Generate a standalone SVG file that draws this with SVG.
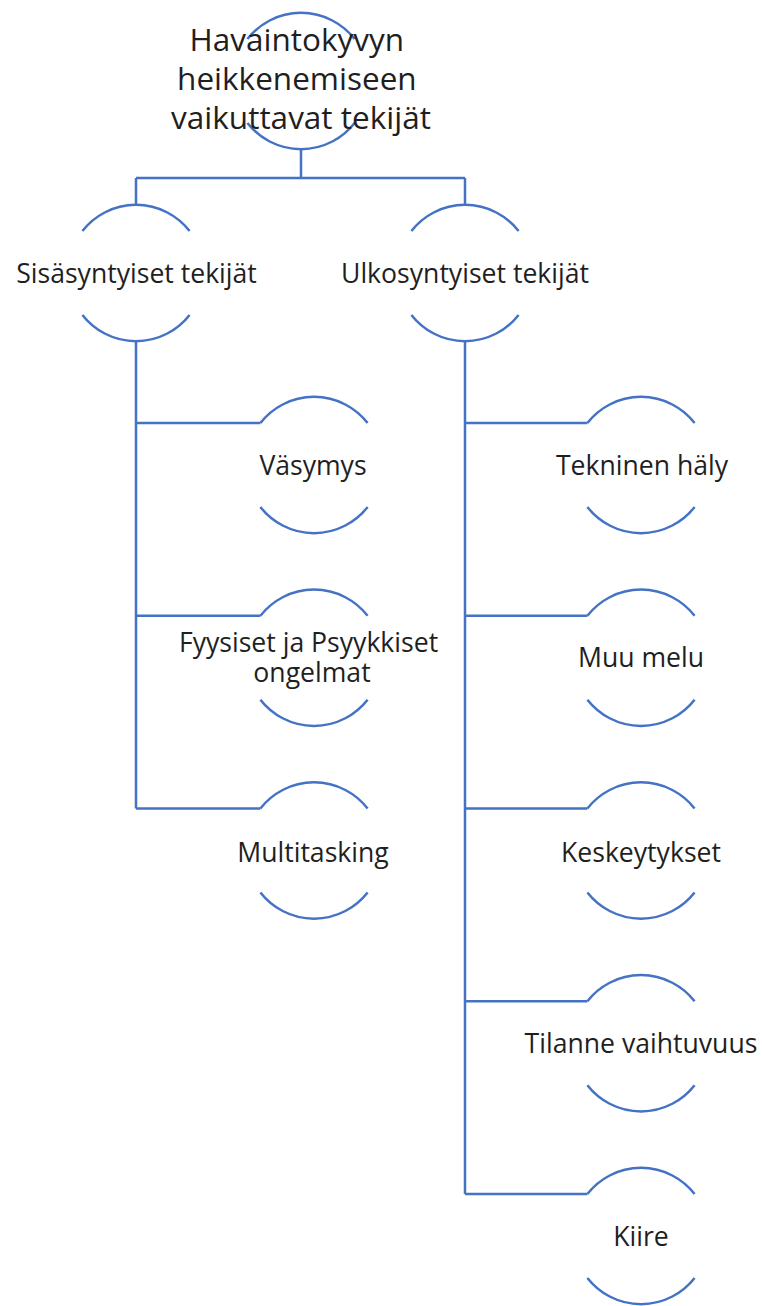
<svg xmlns="http://www.w3.org/2000/svg" width="762" height="1306" viewBox="0 0 762 1306">
  <style>
    .ring { fill: none; stroke: #4472C4; stroke-width: 2.5; }
    .link { fill: none; stroke: #4472C4; stroke-width: 2.5; }
    text { font-family: "Open Sans", "Liberation Sans", sans-serif; fill: #1f1f1f; text-anchor: middle; }
    .lbl { font-size: 26.6px; }
    .head { font-size: 31.5px; }
  </style>
  <defs>
    <!-- open circle: top and bottom arcs of r=68, gaps left and right -->
    <g id="ring">
      <path class="ring" d="M -53.6 -42 A 68 68 0 0 1 53.6 -42"/>
      <path class="ring" d="M -53.6 42 A 68 68 0 0 0 53.6 42"/>
    </g>
  </defs>
  <rect width="762" height="1306" fill="#ffffff"/>

  <g id="connectors">
    <path class="link" d="M 301 149 V 178 M 136 178 H 465 M 136 178 V 205 M 465 178 V 205"/>
    <path class="link" d="M 136 341 V 808.5"/>
    <path class="link" d="M 136 423 H 260.4 M 136 615.75 H 260.4 M 136 808.5 H 260.4"/>
    <path class="link" d="M 465 341 V 1194"/>
    <path class="link" d="M 465 423 H 587.4 M 465 615.75 H 587.4 M 465 808.5 H 587.4 M 465 1001.25 H 587.4 M 465 1194 H 587.4"/>
  </g>

  <g id="root">
    <use href="#ring" x="301" y="81"/>
    <text class="head">
      <tspan x="301" y="51">Havaintokyvyn</tspan>
      <tspan x="301" y="90">heikkenemiseen</tspan>
      <tspan x="301" y="129">vaikuttavat tekijät</tspan>
    </text>
  </g>

  <g id="internal">
    <use href="#ring" x="136" y="273"/>
    <text class="lbl" x="136.5" y="283">Sisäsyntyiset tekijät</text>
  </g>
  <g id="external">
    <use href="#ring" x="465" y="273"/>
    <text class="lbl" x="465" y="283">Ulkosyntyiset tekijät</text>
  </g>

  <g id="fatigue">
    <use href="#ring" x="314" y="465"/>
    <text class="lbl" x="313" y="475">Väsymys</text>
  </g>
  <g id="health">
    <use href="#ring" x="314" y="657.75"/>
    <text class="lbl">
      <tspan x="312" y="652">Fyysiset ja Psyykkiset</tspan>
      <tspan x="312" y="682">ongelmat</tspan>
    </text>
  </g>
  <g id="multitasking">
    <use href="#ring" x="314" y="850.5"/>
    <text class="lbl" x="313" y="862">Multitasking</text>
  </g>

  <g id="tech-noise">
    <use href="#ring" x="641" y="465"/>
    <text class="lbl" x="642" y="475">Tekninen häly</text>
  </g>
  <g id="other-noise">
    <use href="#ring" x="641" y="657.75"/>
    <text class="lbl" x="641" y="667">Muu melu</text>
  </g>
  <g id="interruptions">
    <use href="#ring" x="641" y="850.5"/>
    <text class="lbl" x="641" y="862">Keskeytykset</text>
  </g>
  <g id="changing-situation">
    <use href="#ring" x="641" y="1043.25"/>
    <text class="lbl" x="641" y="1053">Tilanne vaihtuvuus</text>
  </g>
  <g id="hurry">
    <use href="#ring" x="641" y="1236"/>
    <text class="lbl" x="641" y="1246">Kiire</text>
  </g>
</svg>
